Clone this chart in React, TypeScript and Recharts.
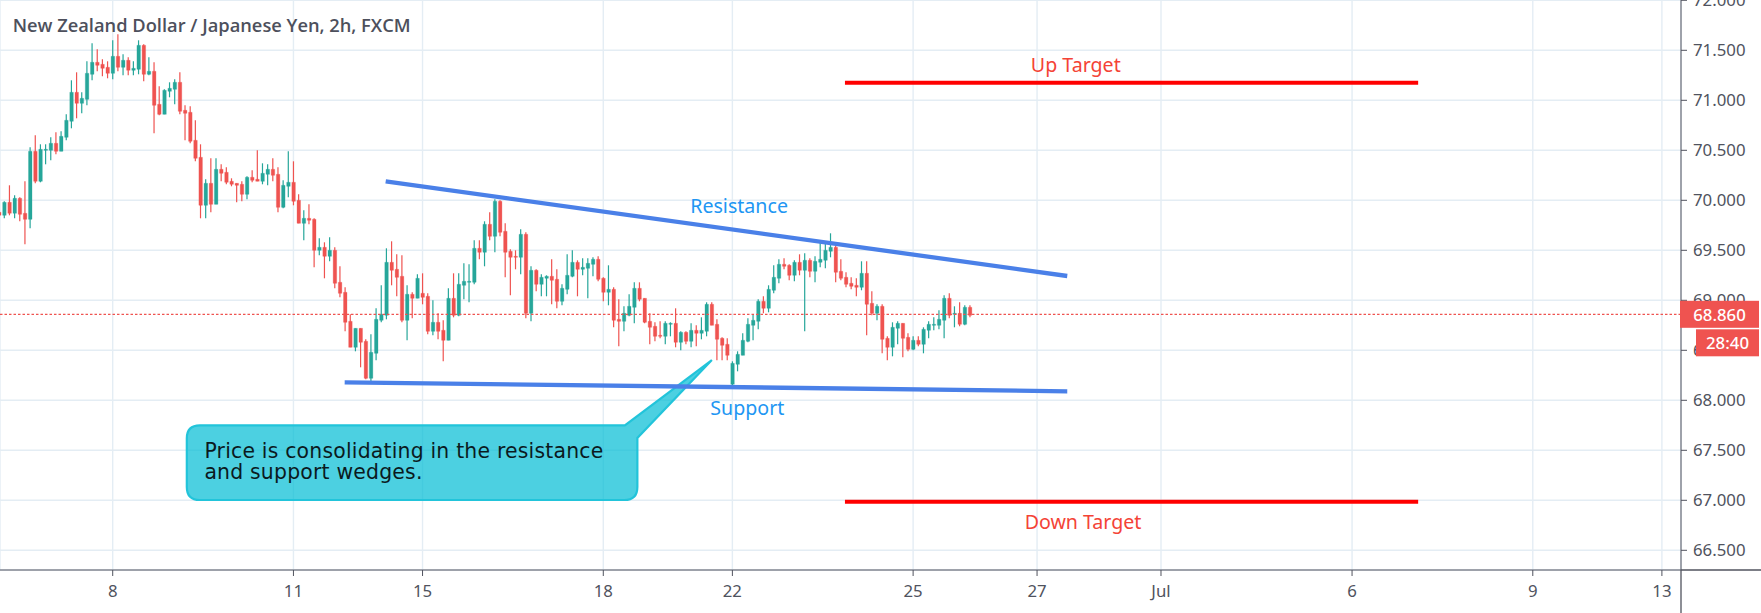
import React from 'react';
import { ComposedChart, Bar, Cell, XAxis, YAxis, CartesianGrid, ReferenceLine, ReferenceDot, ReferenceArea } from 'recharts';

const opens = [
69.88,69.85,69.98,69.87,70.02,69.87,69.81,70.49,70.19,70.50,
70.50,70.57,70.49,70.63,70.79,71.08,70.97,71.01,71.26,71.38,
71.36,71.33,71.27,71.44,71.33,71.40,71.30,71.31,71.55,71.26,
71.29,70.96,70.86,71.09,71.11,71.18,70.90,70.88,70.60,70.43,
69.95,70.17,69.96,70.31,70.28,70.19,70.17,70.16,70.06,70.23,
70.21,70.19,70.26,70.31,70.26,69.93,70.14,70.18,70.00,69.77,
69.82,69.81,69.50,69.53,69.44,69.50,69.18,69.08,68.79,68.53,
68.72,68.59,68.22,68.47,68.80,68.85,69.38,69.31,69.24,68.80,
69.06,69.02,69.07,69.04,68.69,68.78,68.70,68.60,69.02,68.85,
69.15,69.18,69.18,69.52,69.48,69.76,69.64,69.99,69.69,69.49,
69.44,69.43,69.66,68.87,69.30,69.16,69.22,69.24,69.21,68.99,
69.11,69.24,69.38,69.31,69.32,69.36,69.41,69.22,69.08,69.11,
68.81,68.79,68.85,68.93,69.12,69.02,68.79,68.74,68.65,68.64,
68.76,68.77,68.58,68.68,68.59,68.70,68.67,68.69,68.96,68.76,
68.62,68.56,68.16,68.36,68.45,68.59,68.75,68.79,68.99,68.92,
69.10,69.22,69.36,69.35,69.25,69.38,69.30,69.40,69.29,69.38,
69.40,69.49,69.53,69.29,69.23,69.17,69.15,69.13,69.27,68.97,
68.87,68.94,68.62,68.53,68.72,68.77,68.63,68.51,68.60,68.56,
68.70,68.75,68.75,68.80,69.02,68.86,68.87,68.76,68.93];

const closes = [
69.85,69.98,69.87,70.02,69.86,69.81,70.49,70.19,70.51,70.51,
70.57,70.49,70.64,70.80,71.08,70.97,71.02,71.27,71.38,71.35,
71.32,71.27,71.44,71.33,71.40,71.30,71.32,71.55,71.26,71.29,
70.95,70.86,71.10,71.12,71.18,70.89,70.87,70.59,70.42,69.95,
70.17,69.96,70.31,70.27,70.18,70.16,70.15,70.06,70.23,70.20,
70.19,70.27,70.31,70.25,69.93,70.15,70.18,69.99,69.77,69.82,
69.80,69.50,69.53,69.44,69.50,69.17,69.07,68.78,68.53,68.72,
68.58,68.22,68.48,68.81,68.86,69.38,69.30,69.23,68.80,69.06,
69.02,69.22,69.03,68.69,68.78,68.69,68.60,69.02,68.85,69.16,
69.19,69.19,69.52,69.48,69.76,69.64,69.99,69.68,69.48,69.43,
69.43,69.66,68.87,69.30,69.16,69.23,69.24,69.20,68.99,69.12,
69.25,69.38,69.31,69.33,69.37,69.41,69.21,69.08,69.11,68.80,
68.79,68.87,68.94,69.12,69.01,68.78,68.73,68.64,68.64,68.77,
68.77,68.58,68.68,68.59,68.70,68.67,68.70,68.96,68.75,68.61,
68.55,68.45,68.37,68.46,68.60,68.76,68.80,68.99,68.92,69.11,
69.23,69.36,69.34,69.25,69.38,69.30,69.40,69.29,69.39,69.41,
69.50,69.53,69.28,69.22,69.16,69.14,69.13,69.27,68.96,68.87,
68.94,68.61,68.53,68.73,68.77,68.62,68.51,68.60,68.56,68.71,
68.76,68.76,68.81,69.02,68.85,68.87,68.76,68.93,68.85];

const highs = [
69.90,69.99,70.15,70.05,70.03,70.19,70.53,70.65,70.56,70.56,
70.63,70.68,70.69,70.86,71.20,71.28,71.08,71.39,71.57,71.51,
71.41,71.39,71.60,71.66,71.46,71.43,71.39,71.60,71.56,71.43,
71.38,71.14,71.11,71.18,71.21,71.28,70.95,70.94,70.80,70.56,
70.21,70.42,70.42,70.36,70.33,70.22,70.17,70.19,70.24,70.30,
70.50,70.37,70.36,70.42,70.33,70.20,70.49,70.39,70.06,69.90,
69.96,69.82,69.62,69.58,69.63,69.53,69.34,69.13,68.86,68.72,
68.72,68.61,68.66,68.92,69.15,69.52,69.59,69.46,69.45,69.15,
69.08,69.26,69.27,69.07,69.00,68.87,68.80,69.12,69.27,69.27,
69.37,69.36,69.60,69.60,69.79,69.88,70.01,70.00,69.77,69.51,
69.50,69.71,69.68,69.34,69.31,69.26,69.25,69.41,69.31,69.16,
69.46,69.50,69.40,69.42,69.42,69.43,69.44,69.23,69.35,69.13,
69.01,68.94,69.06,69.18,69.18,69.02,68.87,68.78,68.79,68.79,
68.78,68.92,68.69,68.69,68.77,68.75,68.83,68.98,68.98,68.81,
68.63,68.62,68.39,68.49,68.67,68.82,68.86,69.01,69.04,69.15,
69.35,69.41,69.42,69.36,69.40,69.46,69.47,69.42,69.44,69.58,
69.58,69.67,69.55,69.41,69.28,69.23,69.22,69.39,69.39,69.09,
68.96,68.96,68.64,68.78,68.79,68.77,68.67,68.64,68.64,68.73,
68.79,68.83,68.90,69.05,69.07,68.94,68.98,68.95,68.95];

const lows = [
69.83,69.82,69.85,69.82,69.79,69.56,69.72,70.17,70.18,70.36,
70.40,70.46,70.49,70.60,70.72,70.82,70.87,70.95,71.20,71.29,
71.24,71.22,71.21,71.29,71.25,71.25,71.25,71.26,71.19,71.25,
70.67,70.85,70.86,71.03,70.96,70.86,70.60,70.57,70.39,69.82,
69.82,69.88,69.96,70.19,70.16,70.14,69.98,69.99,70.01,70.18,
70.19,70.16,70.15,70.19,69.88,69.92,70.03,69.95,69.77,69.60,
69.76,69.33,69.45,69.22,69.39,69.12,69.03,68.69,68.53,68.49,
68.33,68.21,68.19,68.40,68.78,68.81,69.15,69.04,68.78,68.60,
68.82,69.02,68.96,68.66,68.65,68.61,68.39,68.60,68.83,68.84,
69.01,68.98,69.16,69.41,69.34,69.60,69.48,69.64,69.23,69.05,
69.31,69.26,68.82,68.79,69.09,69.04,69.04,68.96,68.92,68.95,
69.06,69.23,69.04,69.25,69.02,69.24,69.19,68.99,68.95,68.73,
68.54,68.69,68.84,68.77,68.99,68.77,68.56,68.59,68.62,68.56,
68.64,68.53,68.50,68.56,68.53,68.54,68.61,68.64,68.75,68.40,
68.40,68.40,68.15,68.29,68.45,68.58,68.60,68.71,68.87,68.88,
69.07,69.17,69.31,69.20,69.19,69.25,68.69,69.23,69.18,69.33,
69.32,69.43,69.18,69.20,69.13,69.11,69.04,69.10,68.65,68.85,
68.80,68.47,68.40,68.44,68.56,68.43,68.49,68.50,68.54,68.47,
68.62,68.70,68.71,68.62,68.82,68.73,68.74,68.75,68.83];

const dayTickSlots = [22, 57, 82, 117, 142, 177, 201, 225, 262, 297, 322];
const dayTickLabels = ['8', '11', '15', '18', '22', '25', '27', 'Jul', '6', '9', '13'];
const priceTicks = [66.5, 67, 67.5, 68, 68.5, 69, 69.5, 70, 70.5, 71, 71.5, 72];
const lastPrice = 68.86;
const lastPriceLabel = '68.860';
const countdownLabel = '28:40';
const chartTitle = 'New Zealand Dollar / Japanese Yen, 2h, FXCM';
const resistanceLine = [{ x: 74.86, y: 70.19 }, { x: 206.85, y: 69.243 }];
const supportLine = [{ x: 66.92, y: 68.18 }, { x: 206.85, y: 68.09 }];
const upTarget = [{ x: 163.8, y: 71.176 }, { x: 274.8, y: 71.176 }];
const downTarget = [{ x: 163.8, y: 66.986 }, { x: 274.8, y: 66.986 }];
const calloutLines = ['Price is consolidating in the resistance', 'and support wedges.'];

const UP = '#26a69a';
const DOWN = '#ef5350';
const BLUE = '#4a80e8';
const TEXT = '#50535e';
const GRID = '#e4edf4';
const FONT = '"Noto Sans", sans-serif';
const X_DOMAIN: [number, number] = [0.174, 325.7];
const Y_DOMAIN: [number, number] = [66.303, 72.003];

const candles = opens.map((o, i) => ({
  slot: i,
  wick: [lows[i], highs[i]],
  body: [Math.min(o, closes[i]), Math.max(o, closes[i])],
  up: closes[i] >= o,
}));

const fmtDay = (v: number) => dayTickLabels[dayTickSlots.indexOf(v)] ?? '';

const noteText = (value: string, color: string, size = 19.6) => (p: any) => (
  <text x={p.cx} y={p.cy} fill={color} fontSize={size} fontFamily={FONT} textAnchor="middle" dominantBaseline="central">
    {value}
  </text>
);

const CalloutShape = (p: any) => {
  const { x, y, width, height } = p;
  const r = 13;
  const tipX = x + width * 1.1653;
  const tipY = y - height * 0.874;
  const right = x + width;
  const bottom = y + height;
  const d = `M${x + r},${y} L${right - 12.5},${y} L${tipX},${tipY} L${right},${y + 12.7} L${right},${bottom - r} Q${right},${bottom} ${right - r},${bottom} L${x + r},${bottom} Q${x},${bottom} ${x},${bottom - r} L${x},${y + r} Q${x},${y} ${x + r},${y} Z`;
  return (
    <g>
      <path d={d} fill="#00bcd4" fillOpacity={0.7} stroke="#22c4da" strokeWidth={2.2} />
      {calloutLines.map((t, i) => (
        <text key={t} x={x + 17.6} y={y + 25.5 + i * 21} fill="#0b1a1e" fontSize={20.4} letterSpacing={0.2} fontFamily='"DejaVu Sans", sans-serif' dominantBaseline="central">
          {t}
        </text>
      ))}
    </g>
  );
};

const PriceBadges = (p: any) => {
  const { cx, cy } = p;
  return (
    <g>
      <line x1={cx} y1={570} x2={1761} y2={570} stroke={TEXT} strokeWidth={1.3} />
      <line x1={cx} y1={570} x2={cx} y2={613} stroke={TEXT} strokeWidth={1.3} />
      <rect x={cx - 1} y={cy - 13.5} width={79} height={27} fill={DOWN} />
      <text x={cx + 38.5} y={cy} fill="#fff" fontSize={16.8} fontWeight={500} fontFamily={FONT} textAnchor="middle" dominantBaseline="central">{lastPriceLabel}</text>
      <rect x={cx + 15} y={cy + 15} width={63} height={27} fill={DOWN} />
      <text x={cx + 46.5} y={cy + 28.5} fill="#fff" fontSize={16.8} fontWeight={500} fontFamily={FONT} textAnchor="middle" dominantBaseline="central">{countdownLabel}</text>
    </g>
  );
};

const TitleShape = () => (
  <text x={12.7} y={24.7} fill="#4d505c" fontSize={18.3} fontWeight={600} fontFamily='"Open Sans", sans-serif' dominantBaseline="central">
    {chartTitle}
  </text>
);

export default function App() {
  return (
    <div style={{ position: 'absolute', left: 0, top: 0, width: 1761, height: 613, background: '#fff', overflow: 'hidden' }}>
      <ComposedChart width={1761} height={613} data={candles} margin={{ top: 0, right: 0, bottom: 0, left: 0 }}>
        <CartesianGrid stroke={GRID} strokeWidth={1.4} />
        <XAxis
          type="number"
          dataKey="slot"
          domain={X_DOMAIN}
          allowDataOverflow
          ticks={dayTickSlots}
          interval={0}
          tickFormatter={fmtDay}
          height={43}
          tickSize={6}
          tickMargin={9}
          stroke={TEXT}
          tick={{ fill: TEXT, fontSize: 16.8, fontFamily: FONT }}
        />
        <XAxis xAxisId="wicks" type="number" dataKey="slot" domain={X_DOMAIN} allowDataOverflow hide />
        <YAxis
          orientation="right"
          width={80}
          domain={Y_DOMAIN}
          allowDataOverflow
          ticks={priceTicks}
          interval={0}
          tickFormatter={(v: number) => v.toFixed(3)}
          tickSize={6}
          tickMargin={6}
          stroke={TEXT}
          tick={{ fill: TEXT, fontSize: 16.8, fontFamily: FONT, textAnchor: 'start' }}
        />
        <ReferenceLine y={lastPrice} stroke={DOWN} strokeWidth={1.2} strokeDasharray="2.5 2" />
        <Bar xAxisId="wicks" dataKey="wick" barSize={1.2} isAnimationActive={false}>
          {candles.map((c) => <Cell key={c.slot} fill={c.up ? UP : DOWN} />)}
        </Bar>
        <Bar dataKey="body" barSize={3.5} isAnimationActive={false}>
          {candles.map((c) => <Cell key={c.slot} fill={c.up ? UP : DOWN} stroke={c.up ? UP : DOWN} strokeWidth={0.3} />)}
        </Bar>
        <ReferenceArea x1={36.35} x2={123.6} y1={67.75} y2={67.003} shape={CalloutShape} ifOverflow="visible" />
        <ReferenceLine segment={resistanceLine} stroke={BLUE} strokeWidth={4.3} ifOverflow="visible" />
        <ReferenceLine segment={supportLine} stroke={BLUE} strokeWidth={4.3} ifOverflow="visible" />
        <ReferenceLine segment={upTarget} stroke="#ff0000" strokeWidth={4} ifOverflow="visible" />
        <ReferenceLine segment={downTarget} stroke="#ff0000" strokeWidth={4} ifOverflow="visible" />
        <ReferenceDot x={208.5} y={71.363} r={0} shape={noteText('Up Target', '#f44336')} ifOverflow="visible" />
        <ReferenceDot x={209.9} y={66.79} r={0} shape={noteText('Down Target', '#f44336')} ifOverflow="visible" />
        <ReferenceDot x={143.3} y={69.953} r={0} shape={noteText('Resistance', '#2196f3')} ifOverflow="visible" />
        <ReferenceDot x={144.9} y={67.933} r={0} shape={noteText('Support', '#2196f3')} ifOverflow="visible" />
        <ReferenceDot x={1} y={71.5} r={0} shape={TitleShape} ifOverflow="visible" />
        <ReferenceDot x={X_DOMAIN[1]} y={lastPrice} r={0} shape={PriceBadges} ifOverflow="visible" {...({ zIndex: 3000 } as any)} />
      </ComposedChart>
    </div>
  );
}
